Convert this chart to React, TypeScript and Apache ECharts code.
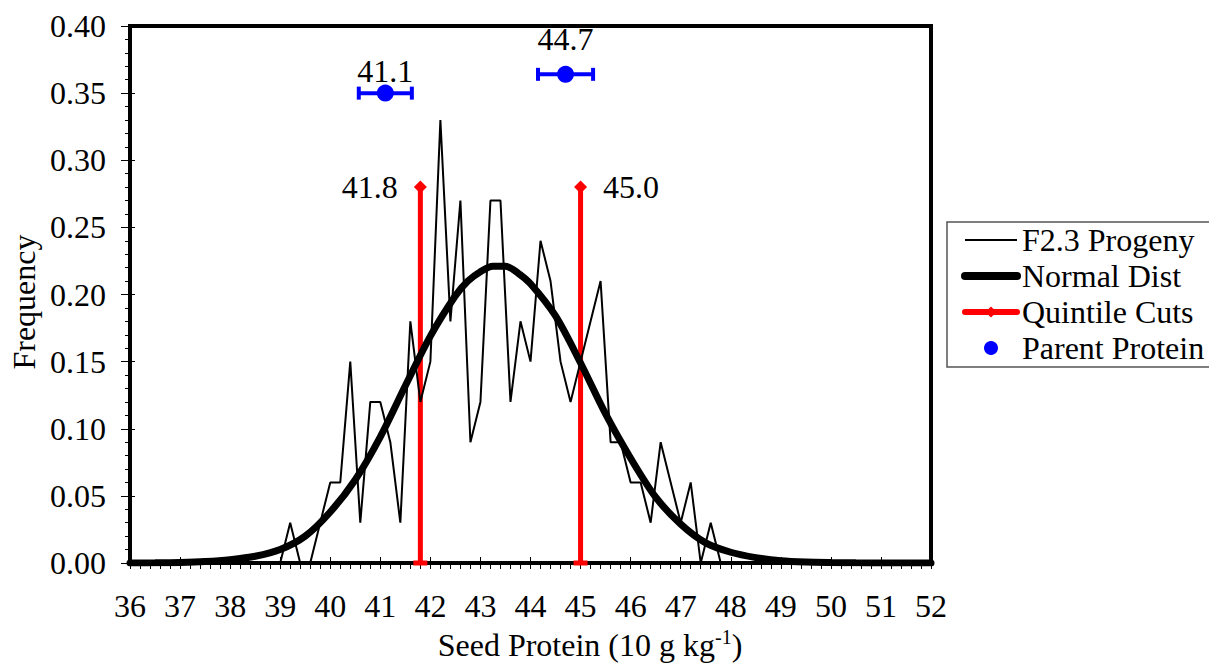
import React, { useEffect, useRef } from "react";
import * as echarts from "echarts";

// ---------- data ----------
const xMin = 36;
const xMax = 52;
const yMin = 0;
const yMax = 0.4;

const progenyX = [
  38.8, 39.0, 39.2, 39.4, 39.6, 39.8, 40.0, 40.2, 40.4, 40.6, 40.8, 41.0, 41.2, 41.4, 41.6, 41.8,
  42.0, 42.2, 42.4, 42.6, 42.8, 43.0, 43.2, 43.4, 43.6, 43.8, 44.0, 44.2, 44.4, 44.6, 44.8, 45.0,
  45.2, 45.4, 45.6, 45.8, 46.0, 46.2, 46.4, 46.6, 46.8, 47.0, 47.2, 47.4, 47.6, 47.8, 48.0,
];
const progenyFreq = [
  0, 0, 0.03, 0, 0, 0.03, 0.06, 0.06, 0.15, 0.03, 0.12, 0.12, 0.09, 0.03, 0.18, 0.12,
  0.15, 0.33, 0.18, 0.27, 0.09, 0.12, 0.27, 0.27, 0.12, 0.18, 0.15, 0.24, 0.21, 0.15, 0.12, 0.15,
  0.18, 0.21, 0.09, 0.09, 0.06, 0.06, 0.03, 0.09, 0.06, 0.03, 0.06, 0, 0.03, 0, 0,
];

const normalX = [
  36, 36.5, 37, 37.5, 38, 38.5, 39, 39.5, 40, 40.5, 41, 41.5, 42, 42.5, 42.75, 43, 43.25, 43.5, 43.75,
  44, 44.5, 45, 45.5, 46, 46.5, 47, 47.5, 48, 48.5, 49, 49.5, 50, 50.5, 51, 51.5, 52,
];
const normalFreq = [
  0.0, 0.0001, 0.0004, 0.0011, 0.0025, 0.005, 0.01, 0.02, 0.038, 0.062, 0.094, 0.132, 0.169, 0.199, 0.21, 0.217, 0.221, 0.221, 0.216,
  0.208, 0.184, 0.149, 0.111, 0.078, 0.049, 0.029, 0.015, 0.008, 0.004, 0.0017, 0.0007, 0.0003, 0.0001, 0.0, 0.0, 0.0,
];

const quintileCuts = [41.8, 45.0];
const quintileTop = 0.28;
const quintileLabels = ["41.8", "45.0"];

const parentProtein = [41.1, 44.7];
const parentFreq = [0.35, 0.364];
const parentHalfRange = [0.53, 0.55];
const parentLabels = ["41.1", "44.7"];

const legendNames = ["F2.3 Progeny", "Normal Dist", "Quintile Cuts", "Parent Protein"];

// ---------- style ----------
const FONT = "Liberation Serif, Times New Roman, serif";
const FS = 32;
const parentLabelDistance = [-2, 11];
const quintileLabelPos = ["left", "right"];

function buildOption() {
  const series: any[] = [];

  quintileCuts.forEach((x, i) => {
    series.push({
      name: "Quintile Cuts",
      type: "line",
      xAxisIndex: 0,
      yAxisIndex: 0,
      symbol: "diamond",
      symbolSize: 13,
      color: "#ff0000",
      lineStyle: { color: "#ff0000", width: 5 },
      itemStyle: { color: "#ff0000", opacity: 1 },
      z: 3,
      data: [
        { value: [x, 0], symbol: "rect", symbolSize: [14, 5] },
        {
          value: [x, quintileTop],
          label: {
            show: true,
            position: quintileLabelPos[i],
            distance: 16,
            formatter: quintileLabels[i],
            color: "#000",
            fontSize: FS,
            fontFamily: FONT,
          },
        },
      ],
    });
  });

  parentProtein.forEach((x, i) => {
    series.push({
      name: "err" + i,
      type: "line",
      xAxisIndex: 0,
      yAxisIndex: 0,
      symbol: "rect",
      symbolSize: [4, 13],
      color: "#0000ff",
      lineStyle: { color: "#0000ff", width: 4 },
      itemStyle: { color: "#0000ff", opacity: 1 },
      z: 3,
      data: [
        [x - parentHalfRange[i], parentFreq[i]],
        [x + parentHalfRange[i], parentFreq[i]],
      ],
    });
  });

  series.push({
    name: "Parent Protein",
    type: "scatter",
    xAxisIndex: 0,
    yAxisIndex: 0,
    symbol: "circle",
    symbolSize: 17,
    color: "#0000ff",
    itemStyle: { color: "#0000ff", opacity: 1 },
    z: 4,
    data: parentProtein.map((x, i) => ({
      value: [x, parentFreq[i]],
      label: {
        show: true,
        position: "top",
        distance: parentLabelDistance[i],
        formatter: parentLabels[i],
        color: "#000",
        opacity: 1,
        fontSize: FS,
        fontFamily: FONT,
      },
    })),
  });

  series.push({
    name: "F2.3 Progeny",
    type: "line",
    xAxisIndex: 0,
    yAxisIndex: 0,
    symbol: "none",
    color: "#000",
    lineStyle: { color: "#000", width: 2 },
    z: 5,
    data: progenyX.map((x, i) => [x, progenyFreq[i]]),
  });

  series.push({
    name: "Normal Dist",
    type: "line",
    xAxisIndex: 0,
    yAxisIndex: 0,
    symbol: "none",
    smooth: 0.3,
    color: "#000",
    lineStyle: { color: "#000", width: 7, cap: "round" },
    z: 6,
    data: normalX.map((x, i) => [x, normalFreq[i]]),
  });

  return {
    animation: false,
    backgroundColor: "#fff",
    textStyle: { fontFamily: FONT },
    grid: {
      left: 130,
      top: 26,
      width: 801,
      height: 537,
      show: true,
      borderColor: "#000",
      borderWidth: 4,
      backgroundColor: "transparent",
    },
    legend: {
      data: [
        { name: legendNames[0], itemStyle: { opacity: 0 }, lineStyle: { width: 2, color: "#000" } },
        { name: legendNames[1], itemStyle: { opacity: 0 }, lineStyle: { width: 8, color: "#000", cap: "round" } },
        { name: legendNames[2], lineStyle: { width: 6, color: "#ff0000", cap: "round" } },
        { name: legendNames[3] },
      ],
      orient: "vertical",
      left: 947,
      top: 222,
      padding: [2, 8, 3, 14],
      itemWidth: 52,
      itemHeight: 14,
      itemGap: 4,
      borderColor: "#555",
      borderWidth: 1.5,
      selectedMode: false,
      textStyle: { fontSize: FS, color: "#000", fontFamily: FONT },
    },
    xAxis: [
      {
        type: "value",
        min: xMin,
        max: xMax,
        interval: 1,
        position: "bottom",
        axisLine: { show: true, onZero: false, lineStyle: { color: "#000", width: 4 } },
        axisTick: { show: true, inside: true, length: 6, lineStyle: { color: "#000", width: 1 } },
        axisLabel: { fontSize: FS, color: "#000", fontFamily: FONT, margin: 27 },
        splitLine: { show: false },
      },
      {
        type: "value",
        min: xMin,
        max: xMax,
        interval: 0.2,
        position: "bottom",
        axisLine: { show: false, onZero: false },
        axisTick: { show: true, inside: false, length: 6, lineStyle: { color: "#000", width: 1 } },
        axisLabel: { show: false },
        splitLine: { show: false },
      },
    ],
    yAxis: [
      {
        type: "value",
        min: yMin,
        max: yMax,
        interval: 0.05,
        position: "left",
        axisLine: { show: true, onZero: false, lineStyle: { color: "#000", width: 4 } },
        axisTick: { show: true, inside: false, length: 9, lineStyle: { color: "#000", width: 1 } },
        minorTick: { show: true, splitNumber: 5, length: 5, lineStyle: { color: "#000", width: 1 } },
        axisLabel: {
          fontSize: FS,
          color: "#000",
          fontFamily: FONT,
          margin: 24,
          formatter: (v: number) => v.toFixed(2),
        },
        splitLine: { show: false },
      },
      {
        type: "value",
        min: yMin,
        max: yMax,
        interval: 0.05,
        position: "left",
        axisLine: { show: false, onZero: false },
        axisTick: { show: true, inside: true, length: 5, lineStyle: { color: "#000", width: 1 } },
        axisLabel: { show: false },
        splitLine: { show: false },
      },
    ],
    graphic: [
      {
        type: "text",
        x: 24,
        y: 302,
        rotation: Math.PI / 2,
        style: {
          text: "Frequency",
          fontSize: FS,
          fontFamily: FONT,
          fill: "#000",
          align: "center",
          verticalAlign: "middle",
        },
      },
      {
        type: "text",
        x: 590,
        y: 645,
        style: {
          text: "{a|Seed Protein (10 g kg}{s|-1}{a|)}",
          align: "center",
          verticalAlign: "middle",
          rich: {
            a: { fontSize: FS, fontFamily: FONT, fill: "#000", lineHeight: 36 },
            s: { fontSize: 20, fontFamily: FONT, fill: "#000", lineHeight: 36, verticalAlign: "top", padding: [0, 0, 14, 0] },
          },
        },
      },
    ],
    series,
  };
}

export default function App() {
  const ref = useRef<HTMLDivElement>(null);
  useEffect(() => {
    document.body.style.margin = "0";
    const chart = echarts.init(ref.current!, null, { renderer: "svg", width: 1209, height: 663 });
    chart.setOption(buildOption() as any);
    return () => chart.dispose();
  }, []);
  return <div ref={ref} style={{ width: 1209, height: 663, position: "absolute", left: 0, top: 0 }} />;
}
